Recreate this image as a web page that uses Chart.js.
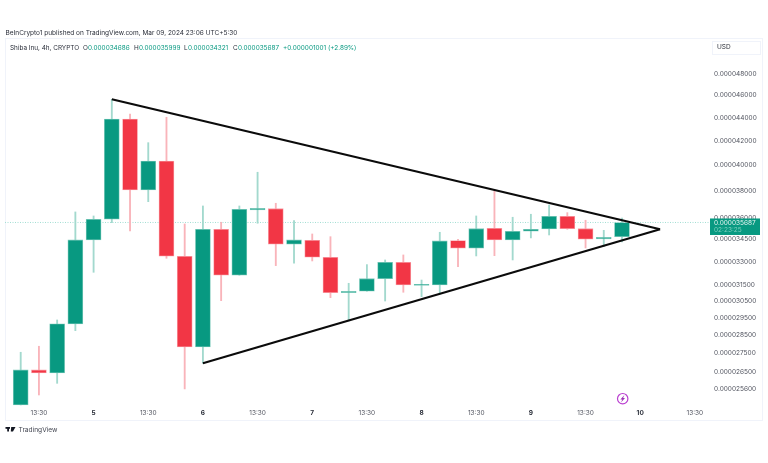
<!DOCTYPE html>
<html>
<head>
<meta charset="utf-8">
<title>Shiba Inu 4h</title>
<script src="https://cdn.jsdelivr.net/npm/chart.js@4/dist/chart.umd.min.js"></script>
<style>
  html, body { margin: 0; padding: 0; background: #fff; }
  #wrap { width: 768px; height: 463px; }
</style>
</head>
<body>
<div id="wrap"><canvas id="chart" width="768" height="463"></canvas></div>
<script>
// velas de 4h
const opens = [0.000024792, 0.000026587, 0.000026429, 0.000029146, 0.000034465, 0.000035917, 0.000043876, 0.000038077, 0.000040347, 0.000033360, 0.000027835, 0.000035205, 0.000032117, 0.000036590, 0.000036683, 0.000034168, 0.000034442, 0.000033294, 0.000031022, 0.000031109, 0.000031901, 0.000032962, 0.000031480, 0.000031502, 0.000034416, 0.000033896, 0.000035276, 0.000034465, 0.000035066, 0.000035227, 0.000036132, 0.000035248, 0.000034533, 0.000034686];
const highs = [0.000027542, 0.000027874, 0.000029376, 0.000036446, 0.000036155, 0.000045636, 0.000044318, 0.000041851, 0.000044027, 0.000035581, 0.000036883, 0.000035703, 0.000036883, 0.000039451, 0.000037082, 0.000035817, 0.000034878, 0.000034690, 0.000031608, 0.000032808, 0.000033114, 0.000033448, 0.000031814, 0.000034996, 0.000034510, 0.000036155, 0.000038025, 0.000036062, 0.000036278, 0.000036955, 0.000036395, 0.000035846, 0.000035134, 0.000035999];
const lows = [0.000024792, 0.000025291, 0.000025886, 0.000028757, 0.000032309, 0.000035674, 0.000035087, 0.000037200, 0.000033225, 0.000025598, 0.000026942, 0.000030528, 0.000032117, 0.000035632, 0.000032741, 0.000032900, 0.000033048, 0.000030715, 0.000029318, 0.000031109, 0.000030509, 0.000031046, 0.000030773, 0.000030941, 0.000032674, 0.000033380, 0.000033400, 0.000033114, 0.000034604, 0.000034808, 0.000035205, 0.000033917, 0.000034004, 0.000034321];
const closes = [0.000026587, 0.000026429, 0.000029146, 0.000034465, 0.000035917, 0.000043876, 0.000038077, 0.000040347, 0.000033360, 0.000027835, 0.000035205, 0.000032117, 0.000036638, 0.000036713, 0.000034168, 0.000034465, 0.000033294, 0.000031022, 0.000031109, 0.000031901, 0.000032962, 0.000031502, 0.000031546, 0.000034396, 0.000033896, 0.000035248, 0.000034465, 0.000035066, 0.000035205, 0.000036132, 0.000035248, 0.000034510, 0.000034646, 0.000035687];

// lineas del triangulo
const upperLineX = [5, 35.09];
const upperLineY = [0.000045636, 0.000035205];
const lowerLineX = [10, 35.09];
const lowerLineY = [0.000026942, 0.000035205];

// etiquetas de los ejes
const priceTicks = [0.000048, 0.000046, 0.000044, 0.000042, 0.00004, 0.000038, 0.000036, 0.0000345, 0.000033, 0.0000315, 0.0000305, 0.0000295, 0.0000285, 0.0000275, 0.0000265, 0.0000256];
const timeTickPos = [1, 4, 7, 10, 13, 16, 19, 22, 25, 28, 31, 34, 37];
const timeTickLabels = ["13:30", "5", "13:30", "6", "13:30", "7", "13:30", "8", "13:30", "9", "13:30", "10", "13:30"];

const lastClose = 0.000035687;
const GREEN = "#089981";
const RED = "#f23645";

// [texto, x, color]
const legendParts = [
  ["Shiba Inu, 4h, CRYPTO", 10, "#2a2e39"],
  ["O", 83, "#2a2e39"], ["0.000034686", 88, GREEN],
  ["H", 134, "#2a2e39"], ["0.000035999", 139, GREEN],
  ["L", 184, "#2a2e39"], ["0.000034321", 188, GREEN],
  ["C", 233, "#2a2e39"], ["0.000035687", 238, GREEN],
  ["+0.000001001 (+2.89%)", 283, GREEN],
];

function tf(ctx, font, color) {
  ctx.font = font;
  ctx.fillStyle = color;
  ctx.textBaseline = "middle";
  ctx.textAlign = "left";
}

// marco, cabecera, etiqueta de precio y demas extras de TradingView
const framePlugin = {
  id: "frame",
  beforeDraw(chart) {
    const ctx = chart.ctx;
    ctx.save();
    ctx.fillStyle = "#fff";
    ctx.fillRect(0, 0, 768, 463);
    ctx.strokeStyle = "#f0f3fa";
    ctx.lineWidth = 1;
    ctx.strokeRect(5.5, 38.5, 757, 382);
    ctx.restore();
  },
  afterDraw(chart) {
    const ctx = chart.ctx;
    ctx.save();
    tf(ctx, "6.5px Inter", "#2a2e39");
    ctx.fillText("BeInCrypto1 published on TradingView.com, Mar 09, 2024 23:06 UTC+5:30", 5.5, 33);

    legendParts.forEach((p) => {
      tf(ctx, "6.4px Inter", p[2]);
      ctx.fillText(p[0], p[1], 48);
    });

    // caja USD
    ctx.strokeStyle = "#f0f3fa";
    ctx.strokeRect(712.5, 41.5, 48, 13);
    tf(ctx, "6.5px Inter", "#2a2e39");
    ctx.fillText("USD", 717, 47.5);

    // etiqueta del ultimo precio
    const y = chart.scales.y.getPixelForValue(lastClose);
    ctx.fillStyle = GREEN;
    ctx.fillRect(710, y - 4, 50, 16.5);
    tf(ctx, "6.5px Inter", "#e6f5f2");
    ctx.fillText("0.000035687", 714, y + 0.5);
    tf(ctx, "6.5px Inter", "#7fd0bf");
    ctx.fillText("02:23:25", 714, y + 8);

    // icono del rayo
    ctx.strokeStyle = "#ba3fd0";
    ctx.lineWidth = 1.2;
    ctx.beginPath();
    ctx.arc(622.7, 398.7, 5.2, 0, Math.PI * 2);
    ctx.stroke();
    ctx.fillStyle = "#9c2fb5";
    ctx.beginPath();
    ctx.moveTo(624.4, 395);
    ctx.lineTo(620.4, 399.5);
    ctx.lineTo(622.3, 399.5);
    ctx.lineTo(621, 402.4);
    ctx.lineTo(625, 397.9);
    ctx.lineTo(623.1, 397.9);
    ctx.closePath();
    ctx.fill();

    // logo y marca
    ctx.fillStyle = "#131722";
    ctx.fillRect(5.5, 427, 4.5, 1.8);
    ctx.fillRect(7.2, 427, 1.8, 4.5);
    ctx.beginPath();
    ctx.moveTo(11.2, 427);
    ctx.lineTo(15.5, 427);
    ctx.lineTo(13, 431.5);
    ctx.lineTo(10.8, 431.5);
    ctx.closePath();
    ctx.fill();
    tf(ctx, "6.6px Inter", "#434651");
    ctx.fillText("TradingView", 18.5, 430);
    ctx.restore();
  },
};

const bodyColors = closes.map((c, i) => (c >= opens[i] ? GREEN : RED));
const bodyEdges = closes.map((c, i) => (c >= opens[i] ? "#7fcbbc" : "#f9a0a8"));
const wickColors = closes.map((c, i) => (c >= opens[i] ? "#a3d9ce" : "#f9b4ba"));

const ctx = document.getElementById("chart").getContext("2d");
new Chart(ctx, {
  type: "bar",
  data: {
    datasets: [
      {
        type: "line",
        data: upperLineX.map((x, i) => ({ x: x, y: upperLineY[i] })),
        borderColor: "#0b0b0b",
        borderWidth: 2.2,
        pointRadius: 0,
        order: 0,
      },
      {
        type: "line",
        data: lowerLineX.map((x, i) => ({ x: x, y: lowerLineY[i] })),
        borderColor: "#0b0b0b",
        borderWidth: 2.2,
        pointRadius: 0,
        order: 0,
      },
      {
        // cuerpos
        data: opens.map((o, i) => ({ x: i, y: [o, closes[i]] })),
        backgroundColor: bodyColors,
        borderColor: bodyEdges,
        borderWidth: 0.8,
        borderSkipped: false,
        barThickness: 15,
        grouped: false,
        order: 1,
      },
      {
        // mechas
        data: lows.map((l, i) => ({ x: i, y: [l, highs[i]] })),
        backgroundColor: wickColors,
        barThickness: 1.2,
        grouped: false,
        order: 2,
      },
      {
        // ultimo precio
        type: "line",
        data: [{ x: -0.862, y: lastClose }, { x: 37.83, y: lastClose }],
        borderColor: "#a3dfd3",
        borderWidth: 1,
        borderDash: [1, 1.5],
        pointRadius: 0,
        order: 3,
      },
    ],
  },
  options: {
    responsive: false,
    animation: false,
    layout: { padding: { left: 5, top: 38, right: 6, bottom: 43 } },
    plugins: { legend: { display: false }, tooltip: { enabled: false } },
    scales: {
      x: {
        type: "linear",
        offset: false,
        min: -0.862,
        max: 37.83,
        border: { display: false },
        grid: { display: false, drawTicks: false },
        afterBuildTicks: (scale) => {
          scale.ticks = timeTickPos.map((v) => ({ value: v }));
        },
        afterFit: (scale) => {
          scale.height = 13;
        },
        ticks: {
          autoSkip: false,
          maxRotation: 0,
          padding: 2,
          color: (c) => (c.index % 2 ? "#2a2e39" : "#50535e"),
          font: (c) => ({ family: "Inter", size: 6.5, weight: c.index % 2 ? "700" : "400" }),
          callback: (v, i) => timeTickLabels[i],
        },
      },
      y: {
        type: "logarithmic",
        position: "right",
        min: 0.000024691,
        max: 0.000051576,
        border: { display: false },
        grid: { display: false, drawTicks: false },
        afterBuildTicks: (scale) => {
          scale.ticks = priceTicks.map((v) => ({ value: v }));
        },
        afterFit: (scale) => {
          scale.width = 52;
        },
        ticks: {
          autoSkip: false,
          padding: 4,
          color: "#50535e",
          font: { family: "Inter", size: 6.5 },
          callback: (v) => Number(v).toFixed(9),
        },
      },
    },
  },
  plugins: [framePlugin],
});
</script>
</body>
</html>
